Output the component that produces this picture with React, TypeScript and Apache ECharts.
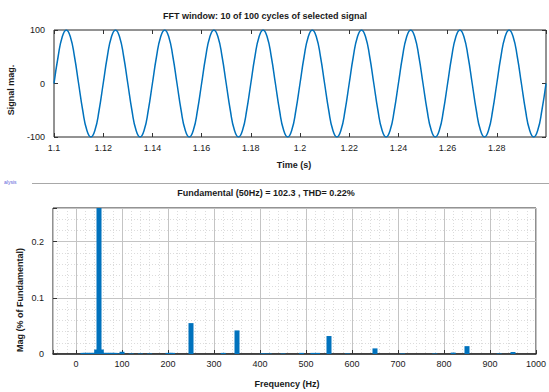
import React, { useEffect, useRef } from "react";
import * as echarts from "echarts";

// ---- Top plot: signal window (1.1 s .. 1.3 s), one sample every 1/12 cycle (50 Hz) ----
const signalStart = 1.1;
const signalStep = 0.02 / 12;
const signalValues = [
  0, 50, 87, 100, 87, 50, 0, -50, -87, -100, -87, -50,
  0, 50, 87, 100, 87, 50, 0, -50, -87, -100, -87, -50,
  0, 50, 87, 100, 87, 50, 0, -50, -87, -100, -87, -50,
  0, 50, 87, 100, 87, 50, 0, -50, -87, -100, -87, -50,
  0, 50, 87, 100, 87, 50, 0, -50, -87, -100, -87, -50,
  0, 50, 87, 100, 87, 50, 0, -50, -87, -100, -87, -50,
  0, 50, 87, 100, 87, 50, 0, -50, -87, -100, -87, -50,
  0, 50, 87, 100, 87, 50, 0, -50, -87, -100, -87, -50,
  0, 50, 87, 100, 87, 50, 0, -50, -87, -100, -87, -50,
  0, 50, 87, 100, 87, 50, 0, -50, -87, -100, -87, -50,
  0,
];
const timeTicks = [1.1, 1.12, 1.14, 1.16, 1.18, 1.2, 1.22, 1.24, 1.26, 1.28];

// ---- Bottom plot: spectrum ----
const freqs = [
  15, 20, 25, 30, 35, 40, 45, 50, 55, 60, 65, 70, 75, 80, 85, 90, 100, 120, 140, 160,
  200, 205, 210, 250, 320, 350, 405, 410, 420, 450, 490, 515, 525, 550, 590, 650,
  710, 780, 820, 850, 920, 950,
];
const mags = [
  0.002, 0.002, 0.002, 0.002, 0.002, 0.002, 0.008, 100, 0.008, 0.002, 0.002, 0.002, 0.002, 0.002, 0.002, 0.001, 0.004, 0.001, 0.001, 0.001,
  0.002, 0.002, 0.002, 0.055, 0.002, 0.042, 0.001, 0.001, 0.001, 0.001, 0.002, 0.002, 0.002, 0.032, 0.001, 0.01,
  0.001, 0.001, 0.0025, 0.014, 0.001, 0.0035,
];
const magTickLabels = ["0", "0.1", "0.2"];

const titleTop = "FFT window: 10 of 100 cycles of selected signal";
const titleBottom = "Fundamental (50Hz) = 102.3 , THD= 0.22%";

const FONT = "Liberation Sans";
const TXT = "#1a1a1a";
const BLUE = "#0072BD";
const TICK = { show: true, inside: true, length: 4, lineStyle: { color: "#333", width: 1 } };
const NOLINE = { show: false, onZero: false };

export default function App() {
  const ref = useRef<HTMLDivElement>(null);

  useEffect(() => {
    if (!ref.current) return;
    const chart = echarts.init(ref.current, undefined, { renderer: "svg" });

    const lineData = signalValues.map((v, i) => [signalStart + i * signalStep, v]);
    const barData = freqs.map((f, i) => [f, mags[i]]);

    const fmtTime = (v: number) => {
      const s = v.toFixed(2).replace(/0$/, "");
      return timeTicks.some((t) => Math.abs(t - v) < 1e-6) ? s : "";
    };
    const fmtMag = (v: number) => {
      const r = Math.round(v * 10) / 10;
      const s = String(r);
      return Math.abs(v - r) < 1e-6 && magTickLabels.includes(s) ? s : "";
    };

    const label = { color: TXT, fontFamily: FONT, fontSize: 9 };

    chart.setOption({
      animation: false,
      textStyle: { fontFamily: FONT },
      grid: [
        { left: 54, top: 30, right: 3, bottom: 255, show: true, borderColor: "#262626", borderWidth: 1, backgroundColor: "transparent" },
        { left: 53, top: 208, right: 6, bottom: 38, show: true, borderColor: "#262626", borderWidth: 1, backgroundColor: "transparent" },
      ],
      xAxis: [
        {
          gridIndex: 0, type: "value", position: "bottom", min: 1.1, max: 1.3, interval: 0.02,
          axisLine: NOLINE, axisTick: TICK, splitLine: { show: false },
          axisLabel: { ...label, margin: 6, formatter: fmtTime, showMaxLabel: false },
        },
        {
          gridIndex: 0, type: "value", position: "top", min: 1.1, max: 1.3, interval: 0.02,
          axisLine: NOLINE, axisTick: TICK, splitLine: { show: false }, axisLabel: { show: false },
        },
        {
          gridIndex: 1, type: "value", position: "bottom", min: -50, max: 1000, splitNumber: 10, z: 2,
          axisLine: { show: true, onZero: false, lineStyle: { color: "#262626", width: 1.5 } },
          axisTick: TICK,
          splitLine: { show: true, lineStyle: { color: "#c4c4c4", width: 1 } },
          axisLabel: { ...label, margin: 5, formatter: (v: number) => (v < 0 ? "" : String(v)) },
        },
        {
          gridIndex: 1, type: "value", position: "bottom", min: -50, max: 1000, splitNumber: 52, z: 1,
          axisLine: NOLINE, axisTick: { show: false }, axisLabel: { show: false },
          splitLine: { show: true, lineStyle: { color: "#dcdcdc", width: 1, type: [1, 2] } },
        },
        {
          gridIndex: 1, type: "value", position: "top", min: -50, max: 1000, splitNumber: 10,
          axisLine: NOLINE, axisTick: TICK, splitLine: { show: false }, axisLabel: { show: false },
        },
      ],
      yAxis: [
        {
          gridIndex: 0, type: "value", position: "left", min: -100, max: 100, interval: 100,
          axisLine: NOLINE, axisTick: TICK, splitLine: { show: false },
          axisLabel: { ...label, margin: 9 },
        },
        {
          gridIndex: 0, type: "value", position: "right", min: -100, max: 100, interval: 100,
          axisLine: NOLINE, axisTick: TICK, splitLine: { show: false }, axisLabel: { show: false },
        },
        {
          gridIndex: 1, type: "value", position: "left", min: 0, max: 0.26, interval: 0.1, z: 2,
          axisLine: NOLINE, axisTick: TICK,
          splitLine: { show: true, lineStyle: { color: "#c4c4c4", width: 1 } },
          axisLabel: { ...label, margin: 9, formatter: fmtMag },
        },
        {
          gridIndex: 1, type: "value", position: "left", min: 0, max: 0.26, interval: 0.02, z: 1,
          axisLine: NOLINE, axisTick: { show: false }, axisLabel: { show: false },
          splitLine: { show: true, lineStyle: { color: "#dcdcdc", width: 1, type: [1, 2] } },
        },
        {
          gridIndex: 1, type: "value", position: "right", min: 0, max: 0.26, interval: 0.1,
          axisLine: NOLINE, axisTick: TICK, splitLine: { show: false }, axisLabel: { show: false },
        },
      ],
      series: [
        {
          type: "line", xAxisIndex: 0, yAxisIndex: 0, data: lineData, smooth: true, z: 5,
          showSymbol: false, lineStyle: { color: BLUE, width: 1.5 }, itemStyle: { color: BLUE },
        },
        {
          type: "bar", xAxisIndex: 2, yAxisIndex: 2, data: barData, barWidth: 5, clip: true, z: 5,
          itemStyle: { color: BLUE },
        },
      ],
      graphic: [
        { type: "text", x: 265, y: 16, style: { text: titleTop, fill: TXT, font: `bold 9px "${FONT}"`, align: "center", verticalAlign: "middle" } },
        { type: "text", x: 294, y: 165, style: { text: "Time (s)", fill: TXT, font: `bold 9px "${FONT}"`, align: "center", verticalAlign: "middle" } },
        { type: "text", x: 11, y: 90, rotation: Math.PI / 2, style: { text: "Signal mag.", fill: TXT, font: `bold 9px "${FONT}"`, align: "center", verticalAlign: "middle" } },
        { type: "text", x: 266, y: 193, style: { text: titleBottom, fill: TXT, font: `bold 9px "${FONT}"`, align: "center", verticalAlign: "middle" } },
        { type: "text", x: 287, y: 384, style: { text: "Frequency (Hz)", fill: TXT, font: `bold 9px "${FONT}"`, align: "center", verticalAlign: "middle" } },
        { type: "text", x: 20, y: 300, rotation: Math.PI / 2, style: { text: "Mag (% of Fundamental)", fill: TXT, font: `bold 9px "${FONT}"`, align: "center", verticalAlign: "middle" } },
        { type: "line", shape: { x1: 32, y1: 183.5, x2: 549, y2: 183.5 }, style: { stroke: "#a8a8a8", lineWidth: 1 } },
        { type: "text", x: 4, y: 182, style: { text: "alysis", fill: "#5a5ad8", font: `5px "${FONT}"`, verticalAlign: "middle" } },
      ],
    });

    return () => chart.dispose();
  }, []);

  return (
    <div
      ref={ref}
      style={{ position: "fixed", left: 0, top: 0, width: 549, height: 392, background: "#fff" }}
    />
  );
}
